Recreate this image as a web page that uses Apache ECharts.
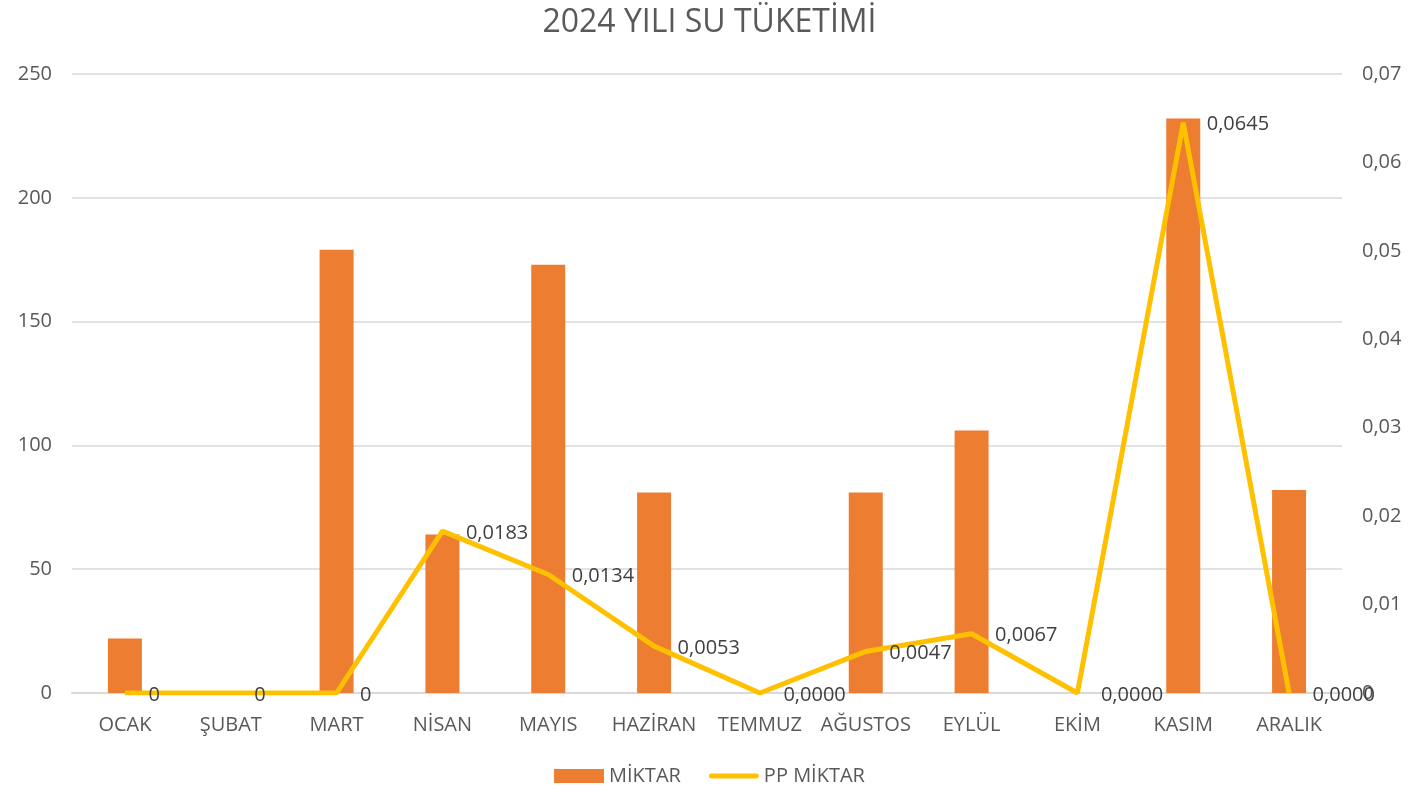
<!DOCTYPE html>
<html>
<head>
<meta charset="utf-8">
<script src="https://cdn.jsdelivr.net/npm/echarts@6/dist/echarts.min.js"></script>
<style>
	html, body { margin: 0; padding: 0; background: #fff; }
	#chart { width: 1419px; height: 793px; }
</style>
</head>
<body>
<div id="chart"></div>
<script>
	const months = ['OCAK', 'ŞUBAT', 'MART', 'NİSAN', 'MAYIS', 'HAZİRAN', 'TEMMUZ', 'AĞUSTOS', 'EYLÜL', 'EKİM', 'KASIM', 'ARALIK'];
	const miktar = [22, 0, 179, 64, 173, 81, 0, 81, 106, 0, 232, 82];
	const ppMiktar = [0, 0, 0, 0.0183, 0.0134, 0.0053, 0, 0.0047, 0.0067, 0, 0.0645, 0];
	const ppLabels = ['0', '0', '0', '0,0183', '0,0134', '0,0053', '0,0000', '0,0047', '0,0067', '0,0000', '0,0645', '0,0000'];
	const rightTicks = ['0', '0,01', '0,02', '0,03', '0,04', '0,05', '0,06', '0,07'];

	const font = 'Open Sans';
	const textColor = '#595959';

	const chart = echarts.init(document.getElementById('chart'));
	const option = {
		animation: false,
		title: {
			text: '2024 YILI SU TÜKETİMİ',
			left: 'center',
			top: 2,
			textStyle: { fontFamily: font, fontSize: 32, fontWeight: 'normal', color: textColor }
		},
		legend: {
			bottom: 2,
			left: 'center',
			itemWidth: 50,
			itemHeight: 14,
			itemGap: 28,
			textStyle: { fontFamily: font, fontSize: 20, color: textColor },
			data: [
				{ name: 'MİKTAR', icon: 'rect' },
				{ name: 'PP MİKTAR', icon: 'path://M2,0 L48,0 A2.5,2.5 0 0 1 48,5 L2,5 A2.5,2.5 0 0 1 2,0 Z' }
			]
		},
		grid: { left: 72, right: 77, top: 74, bottom: 100 },
		xAxis: {
			type: 'category',
			data: months,
			axisLine: { lineStyle: { color: '#d9d9d9', width: 2 } },
			axisTick: { show: false },
			axisLabel: { fontFamily: font, fontSize: 20, color: textColor, margin: 22, interval: 0 }
		},
		yAxis: [{
			type: 'value',
			min: 0,
			max: 250,
			interval: 50,
			axisLine: { show: false },
			axisTick: { show: false },
			splitLine: { lineStyle: { color: '#d9d9d9', width: 1.5 } },
			axisLabel: { fontFamily: font, fontSize: 20, color: textColor, margin: 20 }
		}, {
			type: 'value',
			min: 0,
			max: 0.07,
			interval: 0.01,
			axisLine: { show: false },
			axisTick: { show: false },
			splitLine: { show: false },
			axisLabel: {
				fontFamily: font, fontSize: 20, color: textColor, margin: 20,
				formatter: (v) => rightTicks[Math.round(v * 100)]
			}
		}],
		series: [{
			name: 'MİKTAR',
			type: 'bar',
			data: miktar,
			barWidth: 34,
			itemStyle: { color: '#ed7d31' }
		}, {
			name: 'PP MİKTAR',
			type: 'line',
			yAxisIndex: 1,
			data: ppMiktar,
			symbol: 'circle',
			symbolSize: 1,
			showSymbol: true,
			lineStyle: { color: '#ffc000', width: 5 },
			itemStyle: { color: '#ffc000' },
			label: {
				show: true,
				position: 'right',
				distance: 23,
				offset: [0, 2],
				fontFamily: font,
				fontSize: 20,
				color: '#404040',
				formatter: (p) => ppLabels[p.dataIndex]
			}
		}]
	};
	chart.setOption(option);
</script>
</body>
</html>
